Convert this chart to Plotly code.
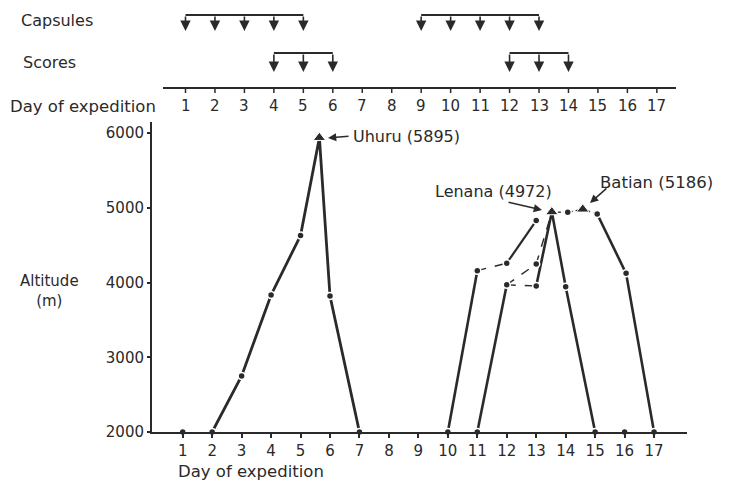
import plotly.graph_objects as go

# ---------------- data ----------------
days = list(range(1, 18))
alt_ticks = [2000, 3000, 4000, 5000, 6000]

# days at base camp (2000 m)
base_day = [1, 2, 7, 10, 11, 15, 16, 17]
base_alt = [2000, 2000, 2000, 2000, 2000, 2000, 2000, 2000]

# Kilimanjaro ascent (Uhuru)
trip1_day = [2, 3, 4, 5, 5.64, 6, 7]
trip1_alt = [2000, 2750, 3835, 4630, 5940, 3820, 2000]

# Mount Kenya routes
climb_a_day = [10, 11]
climb_a_alt = [2000, 4160]
climb_b_day = [12, 13]
climb_b_alt = [4260, 4830]
climb_c_day = [11, 12]
climb_c_alt = [2000, 3970]
climb_d_day = [13, 13.53, 14, 15]
climb_d_alt = [3955, 4945, 3945, 2000]
climb_e_day = [15.07, 16.05, 17]
climb_e_alt = [4918, 4124, 2000]

link_a_day = [11, 12]
link_a_alt = [4160, 4260]
link_b_day = [12, 13]
link_b_alt = [3970, 3955]
link_c_day = [12, 13, 13.53]
link_c_alt = [3970, 4250, 4945]
summit_day = [13.53, 14.07, 14.58, 15.07]
summit_alt = [4945, 4941, 4981, 4918]

# camps (dots)
camp_day = [3, 4, 5, 6, 11, 12, 13, 12, 13, 13, 14, 14.07, 15.07, 16.05]
camp_alt = [2750, 3835, 4630, 3820, 4160, 4260, 4830, 3970, 3955, 4250, 3945, 4941, 4918, 4124]

# peaks (triangles)
peak_day = [5.64, 13.53, 14.58]
peak_alt = [5940, 4945, 4981]
peak_names = ["Uhuru (5895)", "Lenana (4972)", "Batian (5186)"]

# drug schedule (top panel)
capsule_days = [1, 2, 3, 4, 5, 9, 10, 11, 12, 13]
capsule_groups = [(1, 5), (9, 13)]
score_days = [4, 5, 6, 12, 13, 14]
score_groups = [(4, 6), (12, 14)]

# ---------------- figure ----------------
INK = "#2a2a2a"
FONT = "DejaVu Sans"

fig = go.Figure()

def seg(x, y, width=2.6, dash="solid"):
    fig.add_trace(go.Scatter(x=x, y=y, mode="lines",
                             line=dict(color=INK, width=width, dash=dash),
                             hoverinfo="skip"))

seg(trip1_day, trip1_alt, 2.8)
seg(climb_a_day, climb_a_alt)
seg(climb_b_day, climb_b_alt, 2.2)
seg(climb_c_day, climb_c_alt)
seg(climb_d_day, climb_d_alt)
seg(climb_e_day, climb_e_alt)
seg(link_a_day, link_a_alt, 1.4, "dash")
seg(link_b_day, link_b_alt, 1.4, "dash")
seg(link_c_day, link_c_alt, 1.4, "dash")
seg(summit_day, summit_alt, 1.4, "dot")

fig.add_trace(go.Scatter(x=base_day, y=base_alt, mode="markers",
                         marker=dict(color=INK, size=7, symbol="circle",
                                     line=dict(color="white", width=1.5)),
                         cliponaxis=False, hoverinfo="skip"))
fig.add_trace(go.Scatter(x=camp_day, y=camp_alt, mode="markers",
                         marker=dict(color=INK, size=7, symbol="circle",
                                     line=dict(color="white", width=1.5)),
                         hoverinfo="skip"))
fig.add_trace(go.Scatter(x=peak_day, y=peak_alt, mode="markers",
                         marker=dict(color=INK, size=11, symbol="triangle-up",
                                     line=dict(color="white", width=1)),
                         cliponaxis=False, hoverinfo="skip"))

# pixel helpers for layout (plot area: x 152..687, y 10..432)
def px(xp):
    return (xp - 152) / 535.0

def py(yp):
    return (432 - yp) / 422.0

annotations = []
shapes = []

# top "Day of expedition" axis, drawn on the main day scale with a small offset
TOP_SHIFT = 0.095
shapes.append(dict(type="line", xref="paper", yref="paper", x0=px(163), x1=px(676),
                   y0=py(88), y1=py(88), line=dict(color=INK, width=1.8)))
for d in days:
    shapes.append(dict(type="line", xref="x", yref="paper", x0=d + TOP_SHIFT,
                       x1=d + TOP_SHIFT, y0=py(88), y1=py(93),
                       line=dict(color=INK, width=1.5)))
    annotations.append(dict(text=str(d), x=d + TOP_SHIFT, y=py(106), xref="x",
                            yref="paper", xanchor="center", yanchor="middle",
                            showarrow=False,
                            font=dict(family=FONT, size=15, color=INK)))

# top panel brackets and arrows
for (a, b), ytop in [(g, 15) for g in capsule_groups] + [(g, 53) for g in score_groups]:
    shapes.append(dict(type="line", xref="x", yref="paper", x0=a + TOP_SHIFT,
                       x1=b + TOP_SHIFT, y0=py(ytop), y1=py(ytop),
                       line=dict(color=INK, width=2)))
for d in capsule_days:
    annotations.append(dict(x=d + TOP_SHIFT, y=py(31), xref="x", yref="paper",
                            ax=0, ay=-16, text="", showarrow=True, arrowhead=2,
                            arrowsize=1.3, arrowwidth=1.6, arrowcolor=INK))
for d in score_days:
    annotations.append(dict(x=d + TOP_SHIFT, y=py(72), xref="x", yref="paper",
                            ax=0, ay=-19, text="", showarrow=True, arrowhead=2,
                            arrowsize=1.3, arrowwidth=1.6, arrowcolor=INK))

def txt(s, x, y, size=16, xanchor="left", align="left"):
    annotations.append(dict(text=s, x=x, y=y, xref="paper", yref="paper",
                            xanchor=xanchor, yanchor="middle", showarrow=False,
                            align=align, font=dict(family=FONT, size=size, color=INK)))

txt("Capsules", px(19), py(20))
txt("Scores", px(21), py(62))
txt("Day of expedition", px(8), py(106), size=16.5)
txt("Day of expedition", px(176), py(471), size=16.5)
txt("Altitude<br>(m)", px(49), py(291), size=15, xanchor="center", align="center")

# peak labels
txt(peak_names[0], px(351), py(136))
txt(peak_names[1], px(433), py(191))
txt(peak_names[2], px(598), py(182), size=16.5)

# label arrows (pixel tail -> head)
def parrow(x0, y0, x1, y1):
    annotations.append(dict(x=px(x1), y=py(y1), ax=x0 - x1, ay=y0 - y1,
                            xref="paper", yref="paper",
                            text="", showarrow=True, arrowhead=2, arrowsize=1.1,
                            arrowwidth=1.5, arrowcolor=INK))

parrow(350, 136, 328, 138)
parrow(507, 202, 542, 210)
parrow(608, 187, 590, 203)

tickfont = dict(family=FONT, size=15, color=INK)

fig.update_layout(
    width=734, height=484,
    margin=dict(l=152, r=47, t=10, b=52),
    plot_bgcolor="rgba(0,0,0,0)", paper_bgcolor="white",
    showlegend=False,
    font=dict(family=FONT, size=15, color=INK),
    xaxis=dict(range=[-0.042, 18.118], tickvals=days, ticks="outside", ticklen=4,
               tickwidth=1.5, tickcolor=INK, showline=True, linecolor=INK, linewidth=1.5,
               showgrid=False, zeroline=False, tickfont=tickfont, fixedrange=True),
    yaxis=dict(domain=[0, py(122)], range=[2000, 6150], tickvals=alt_ticks,
               ticks="outside", ticklen=3, tickwidth=1.5, tickcolor=INK,
               showline=True, linecolor=INK, linewidth=2, showgrid=False,
               zeroline=False, tickfont=tickfont, fixedrange=True),
    annotations=annotations,
    shapes=shapes,
)

fig.write_html("out.html", config={"displayModeBar": False},
               post_script="document.body.style.margin='0px';")
